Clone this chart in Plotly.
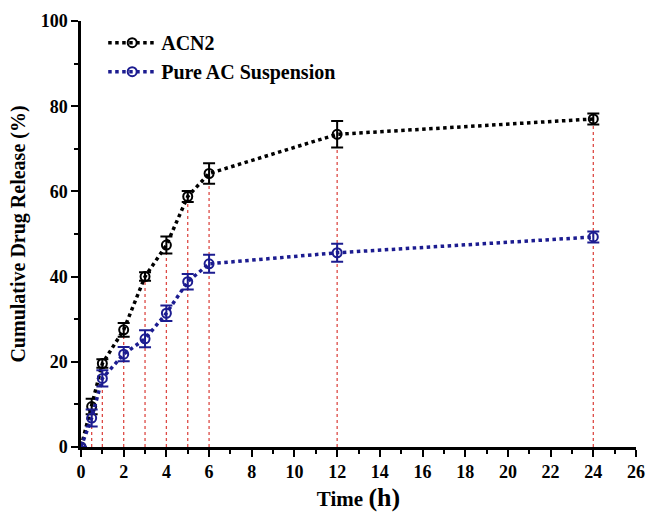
import plotly.graph_objects as go

time_h = [0, 0.5, 1, 2, 3, 4, 5, 6, 12, 24]
acn2 = [0, 9.5, 19.6, 27.5, 40.0, 47.4, 58.8, 64.2, 73.4, 77.0]
acn2_err = [0, 1.8, 1.0, 1.6, 1.0, 2.0, 1.3, 2.4, 3.1, 1.3]
pure = [0, 6.8, 16.1, 21.8, 25.4, 31.4, 38.8, 43.0, 45.6, 49.3]
pure_err = [0, 2.0, 1.9, 1.7, 2.0, 1.8, 1.8, 2.1, 2.1, 1.3]

FONT = "Liberation Serif"
BLUE = "#1c1c90"

fig = go.Figure()

# red dotted drop lines from the x axis to the top series
dx, dy = [], []
for t, v in zip(time_h[1:], acn2[1:]):
    dx += [t, t, None]
    dy += [0, v, None]
fig.add_trace(go.Scatter(x=dx, y=dy, mode="lines", showlegend=False,
                         line=dict(color="#dd4a45", width=1.3, dash="dot"),
                         hoverinfo="skip"))

fig.add_trace(go.Scatter(
    x=time_h, y=acn2, name="ACN2", mode="lines+markers",
    line=dict(color="black", width=3.5, dash="dot"),
    marker=dict(symbol="circle-open", size=9, color="black", line=dict(width=2)),
    error_y=dict(type="data", array=acn2_err, color="black", thickness=2, width=6),
))
fig.add_trace(go.Scatter(
    x=time_h, y=pure, name="Pure AC Suspension", mode="lines+markers",
    line=dict(color=BLUE, width=3.5, dash="dot"),
    marker=dict(symbol="circle-open", size=9, color=BLUE, line=dict(width=2)),
    error_y=dict(type="data", array=pure_err, color=BLUE, thickness=2, width=6),
))

fig.update_layout(
    width=649, height=515,
    margin=dict(l=81, r=13, t=21, b=68),
    plot_bgcolor="white", paper_bgcolor="white",
    font=dict(family=FONT, color="black", size=16),
    legend=dict(x=0.04, y=0.995, xanchor="left", yanchor="top",
                bgcolor="rgba(0,0,0,0)",
                font=dict(family=FONT, size=20, color="black", weight="bold"),
                itemwidth=48, tracegroupgap=0),
    showlegend=True,
)
fig.update_xaxes(
    range=[0, 26], tickmode="array", tickvals=list(range(0, 27, 2)),
    showgrid=False, zeroline=False, showline=True, linecolor="black", linewidth=2.5,
    ticks="outside", ticklen=7, tickwidth=2, tickcolor="black",
    minor=dict(ticks="outside", ticklen=4, tickwidth=2, tickcolor="black", dtick=1),
    tickfont=dict(family=FONT, size=18, weight="bold"),
    ticklabeloverflow="allow", automargin=False,
    title=dict(text="<b>Time <span style='font-size:26px'>(h)</span></b>",
               font=dict(family=FONT, size=21), standoff=10),
)
fig.update_yaxes(
    range=[0, 100], tickmode="array", tickvals=list(range(0, 101, 20)),
    showgrid=False, zeroline=False, showline=True, linecolor="black", linewidth=2.5,
    ticks="outside", ticklen=7, tickwidth=2, tickcolor="black",
    minor=dict(ticks="outside", ticklen=4, tickwidth=2, tickcolor="black", dtick=10),
    tickfont=dict(family=FONT, size=18, weight="bold"),
    ticklabeloverflow="allow", automargin=False,
    title=dict(text="<b>Cumulative Drug Release (%)</b>", font=dict(family=FONT, size=20), standoff=10),
)

fig.write_html("out.html",
               config={"displayModeBar": False},
               post_script="document.body.style.margin='0';document.body.style.overflow='hidden';")
